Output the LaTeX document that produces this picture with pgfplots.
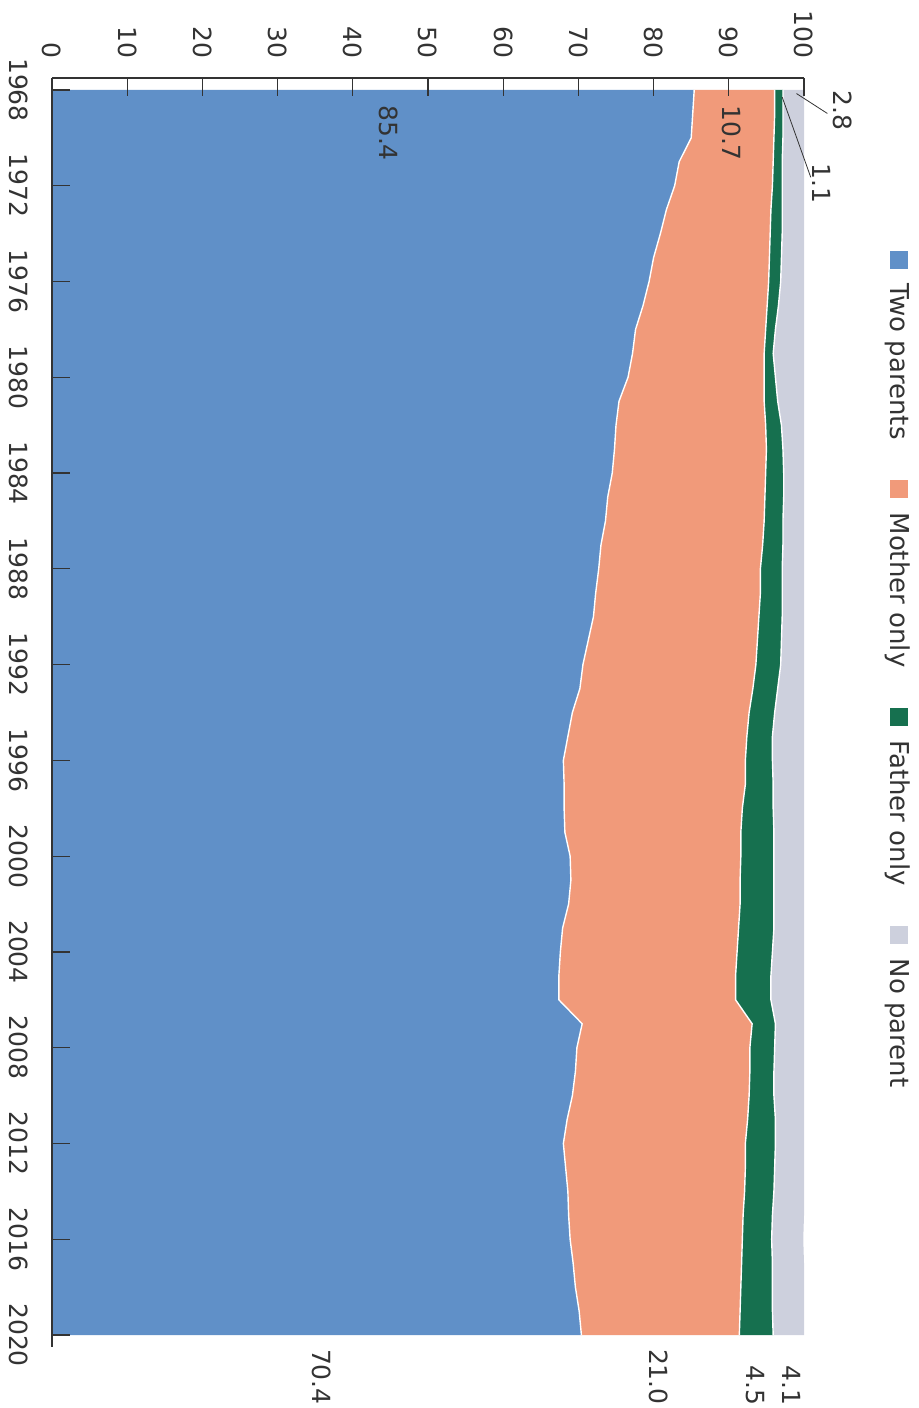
\documentclass[border=0pt]{standalone}
\usepackage{pgfplots}
\pgfplotsset{compat=1.18}
\usepackage{pgfplotstable}
\usepgfplotslibrary{fillbetween}
\usepackage{fontspec}
\setmainfont{DejaVu Sans}

\definecolor{twop}{HTML}{6090C8}
\definecolor{mom}{HTML}{F19A7A}
\definecolor{dad}{HTML}{16704F}
\definecolor{nop}{HTML}{CDD0DD}
\definecolor{txt}{HTML}{333333}

% living arrangements of children, percent
\pgfplotstableread{
year two mother father none
1968 85.4 10.7 1.1 2.8
1969 85.2 10.9 1.1 2.8
1970 85.0 11.0 1.2 2.8
1971 83.4 12.5 1.2 2.9
1972 82.8 13.0 1.3 2.9
1973 81.7 13.9 1.5 2.9
1974 80.9 14.6 1.6 2.9
1975 80.0 15.4 1.6 3.0
1976 79.4 15.9 1.6 3.1
1977 78.6 16.5 1.5 3.4
1978 77.6 17.3 1.3 3.8
1979 77.2 17.5 1.2 4.1
1980 76.6 18.1 1.5 3.8
1981 75.4 19.3 1.8 3.5
1982 75.0 19.9 2.1 3.0
1983 74.8 20.2 2.2 2.8
1984 74.5 20.4 2.4 2.7
1985 73.9 20.9 2.5 2.7
1986 73.6 21.1 2.5 2.8
1987 73.0 21.5 2.7 2.8
1988 72.7 21.5 2.9 2.9
1989 72.3 21.9 2.9 2.9
1990 72.0 22.0 3.1 2.9
1991 71.3 22.5 3.2 3.0
1992 70.6 23.0 3.3 3.1
1993 70.2 23.0 3.3 3.5
1994 69.2 23.5 3.4 3.9
1995 68.6 23.8 3.4 4.2
1996 68.0 24.2 3.6 4.2
1997 68.1 24.1 3.7 4.1
1998 68.1 23.7 4.1 4.1
1999 68.2 23.4 4.4 4.0
2000 68.9 22.7 4.4 4.0
2001 69.0 22.5 4.5 4.0
2002 68.7 22.8 4.5 4.0
2003 67.9 23.4 4.7 4.0
2004 67.6 23.5 4.7 4.2
2005 67.4 23.5 4.7 4.4
2006 67.4 23.5 4.7 4.4
2007 70.5 22.6 3.1 3.8
2008 69.8 23.0 3.3 3.9
2009 69.6 23.2 3.2 4.0
2010 69.2 23.5 3.3 4.0
2011 68.5 24.0 3.7 3.8
2012 68.0 24.2 4.0 3.8
2013 68.3 23.9 3.9 3.9
2014 68.6 23.5 3.9 4.0
2015 68.7 23.2 3.9 4.2
2016 68.9 22.9 3.9 4.2
2017 69.3 22.4 4.1 4.2
2018 69.6 22.0 4.2 4.2
2019 70.1 21.4 4.3 4.2
2020 70.4 21.0 4.5 4.1
}\living

\newcommand{\swatch}[1]{\textcolor{#1}{\rule[0.2pt]{9pt}{9pt}}}

\begin{document}
\begin{tikzpicture}
\begin{axis}[
    scale only axis,
    width=376pt, height=634.5pt,
    at={(26pt,30.5pt)}, anchor=south west,
    xmin=0, xmax=100,
    ymin=1967.5, ymax=2020.5,
    y dir=reverse,
    enlargelimits=false,
    axis x line*=top,
    axis y line*=left,
    axis on top,
    clip=false,
    xtick={0,10,...,100},
    ytick={1968,1972,...,2020},
    tick align=inside,
    major tick length=9pt,
    tick style={black!80, line width=0.6pt},
    axis line style={black!80, line width=0.6pt},
    /pgf/number format/1000 sep={},
    /pgf/number format/assume math mode=true,
    tick label style={font=\fontsize{12.5}{15}\selectfont, text=txt},
    x tick label style={rotate=-90, anchor=east, inner sep=9.5pt},
    y tick label style={rotate=-90, anchor=north, inner sep=12pt},
]
% boundaries of the stacked bands
\addplot[draw=none, name path=p0] table[x expr=0, y=year]{\living};
\addplot[white, line width=0.7pt, name path=p1] table[x=two, y=year]{\living};
\addplot[white, line width=0.7pt, name path=p2]
    table[x expr=\thisrow{two}+\thisrow{mother}, y=year]{\living};
\addplot[white, line width=0.7pt, name path=p3]
    table[x expr=\thisrow{two}+\thisrow{mother}+\thisrow{father}, y=year]{\living};
\addplot[draw=none, name path=p4]
    table[x expr=\thisrow{two}+\thisrow{mother}+\thisrow{father}+\thisrow{none}, y=year]{\living};

\addplot[fill=twop, draw=none] fill between[of=p0 and p1];
\addplot[fill=mom, draw=none] fill between[of=p1 and p2];
\addplot[fill=dad, draw=none] fill between[of=p2 and p3];
\addplot[fill=nop, draw=none] fill between[of=p3 and p4];

\begin{scope}[every node/.style={rotate=-90, font=\fontsize{12.5}{15}\selectfont, text=txt}]
\node at (axis cs:44.7,1969.8) {85.4};
\node at (axis cs:90.4,1969.8) {10.7};
\node at (axis cs:105.1,1968.85) {2.8};
\node at (axis cs:102.4,1971.9) {1.1};
\node at (axis cs:35.9,2021.75) {70.4};
\node at (axis cs:80.7,2021.75) {21.0};
\node at (axis cs:93.6,2022.1) {4.5};
\node at (axis cs:98.4,2022.1) {4.1};
% legend
\node[anchor=west, inner sep=0pt, font=\fontsize{13}{15}\selectfont] at (axis cs:112.4,1974.7)
  {\swatch{twop}\hspace{7.5pt}Two parents\hspace{20pt}%
   \swatch{mom}\hspace{7.5pt}Mother only\hspace{20pt}%
   \swatch{dad}\hspace{7.5pt}Father only\hspace{20pt}%
   \swatch{nop}\hspace{7.5pt}No parent};
\end{scope}
\draw[txt, line width=0.4pt] (axis cs:99.0,1968.15) -- (axis cs:103.1,1968.98);
\draw[txt, line width=0.4pt] (axis cs:97.1,1968.3) -- (axis cs:100.9,1971.65);
\end{axis}
\pgfresetboundingbox
\path[use as bounding box] (0,0) rectangle (459.5pt,704pt);
\end{tikzpicture}
\end{document}
